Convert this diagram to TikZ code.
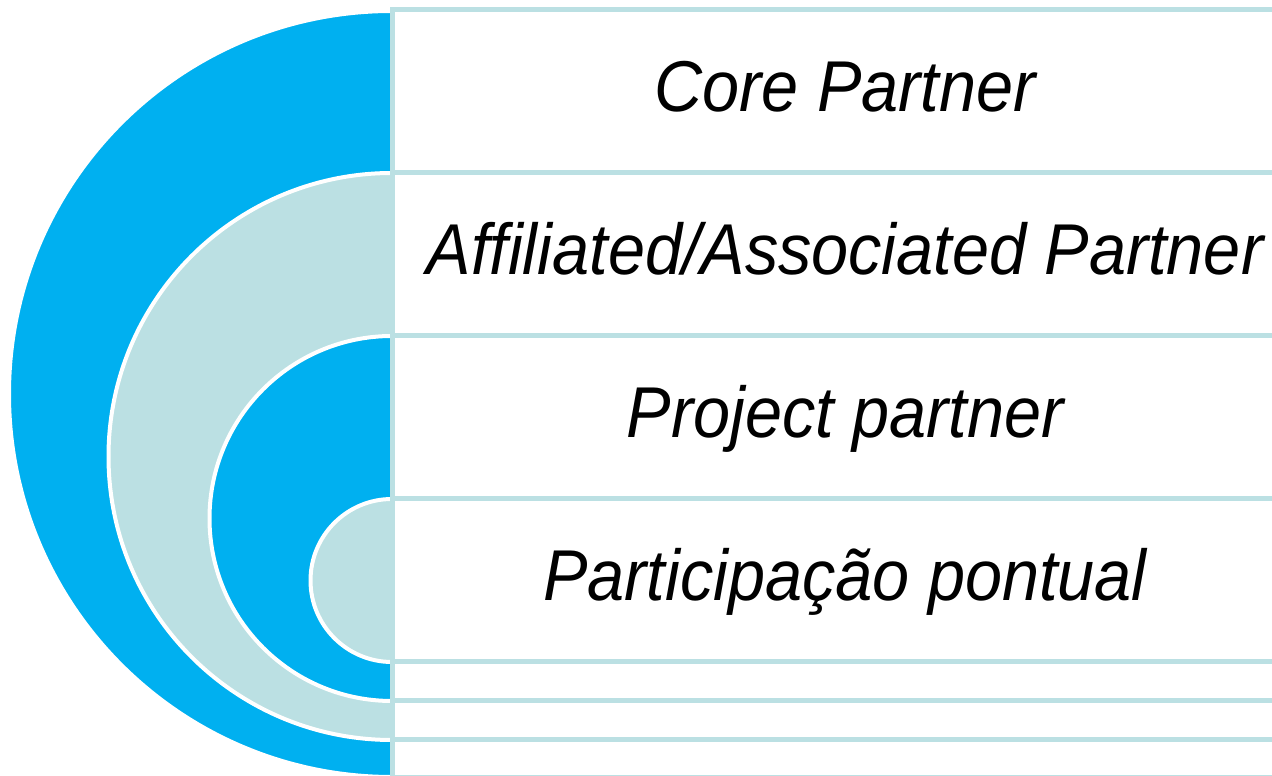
\documentclass[tikz,border=0pt]{standalone}
\usepackage{fontspec}
\newfontfamily\labfont{Liberation Sans}[FakeStretch=0.925]
\definecolor{cblue}{HTML}{00B0F0}
\definecolor{clight}{HTML}{BBE0E3}
\begin{document}
\begin{tikzpicture}[x=1pt,y=1pt,
  halfdisc/.style={draw=white,line width=4pt},
  rowbox/.style={draw=clight,line width=5pt,fill=white},
  lab/.style={anchor=base,inner sep=0pt,font=\labfont\itshape\fontsize{72}{86}\selectfont}]
\useasboundingbox (0,0) rectangle (1272,776);
\clip (0,0) rectangle (1272,776);
% nested half discs
\draw[halfdisc,fill=cblue]  (392,765) arc (90:270:383) -- cycle;
\draw[halfdisc,fill=clight] (392,603) arc (90:270:283.5) -- cycle;
\draw[halfdisc,fill=cblue]  (392,440) arc (90:270:182.5) -- cycle;
\draw[halfdisc,fill=clight] (392,277) arc (90:270:81.5) -- cycle;
% rows
\draw[rowbox] (392,766) rectangle (1300,603);
\draw[rowbox] (392,603) rectangle (1300,440);
\draw[rowbox] (392,440) rectangle (1300,277);
\draw[rowbox] (392,277) rectangle (1300,114);
\draw[rowbox] (392,114) rectangle (1300,75);
\draw[rowbox] (392,75) rectangle (1300,36);
\draw[rowbox] (392,36) rectangle (1300,-2);
% labels
\node[lab] (core) at (845,664) {Core Partner};
\node[lab] (affil) at (845,501) {Affiliated/Associated Partner};
\node[lab] (proj) at (845,338) {Project partner};
\node[lab] (part) at (845,175) {Participação pontual};
\end{tikzpicture}
\end{document}
